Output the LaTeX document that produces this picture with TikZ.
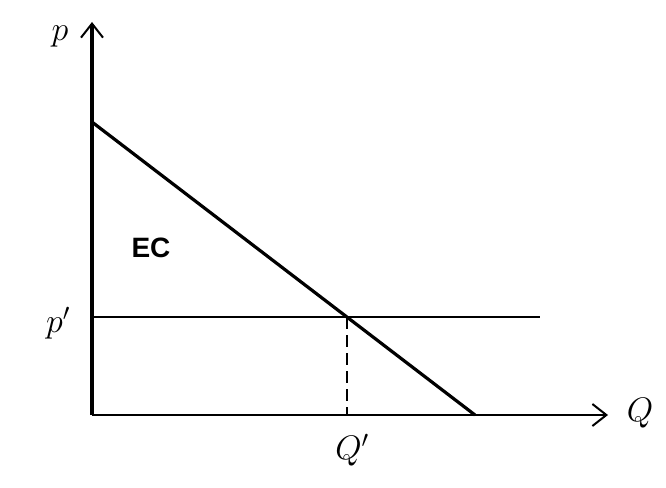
\RequirePackage{fix-cm}
\documentclass[tikz,border=0pt]{standalone}
\usepackage{fontspec}
\newfontfamily\labelfont{Liberation Sans}
\usetikzlibrary{arrows.meta, positioning, calc}
\tikzset{
  axis/.style={line width=2.4pt, -{Straight Barb[length=14pt, width=22pt, line width=2pt]}},
  demand/.style={line width=3.2pt},
  priceline/.style={line width=1.8pt},
  guide/.style={line width=1.2pt, dash pattern=on 12pt off 6pt},
  mathlabel/.style={font=\fontsize{34}{38}\selectfont, inner sep=0pt},
  area/.style={font=\labelfont\bfseries\fontsize{28}{32}\selectfont, inner sep=0pt}
}
\begin{document}
\begin{tikzpicture}[x=1pt, y=-1pt]
    \useasboundingbox (0,0) rectangle (666,487);
    \fill[white] (0,0) rectangle (666,487);

    % axes
    \coordinate (O) at (92,415);
    \coordinate (Ytop) at (92,22);
    \coordinate (Xend) at (608,415);
    \draw[axis, line width=3.4pt] (O) -- (Ytop);
    \draw[axis] (O) -- (Xend);

    % demand and price
    \coordinate (D1) at (92,122);
    \coordinate (D2) at (475,415);
    \coordinate (P1) at (92,317);
    \coordinate (P2) at (540,317);
    \coordinate (E) at (347,317);
    \coordinate (Qe) at (347,415);
    \draw[demand] (D1) -- (D2);
    \draw[priceline] (P1) -- (P2);
    \draw[guide] (E) -- (Qe);

    % labels
    \node[mathlabel] (pLab) at (60,36) {$p$};
    \node[mathlabel] (ppLab) at (58,323) {$p'$};
    \node[mathlabel] (QLab) at (640,413) {$Q$};
    \node[mathlabel] (QpLab) at (352,450) {$Q'$};
    \node[area] (EC) at (151,248) {EC};
\end{tikzpicture}
\end{document}
